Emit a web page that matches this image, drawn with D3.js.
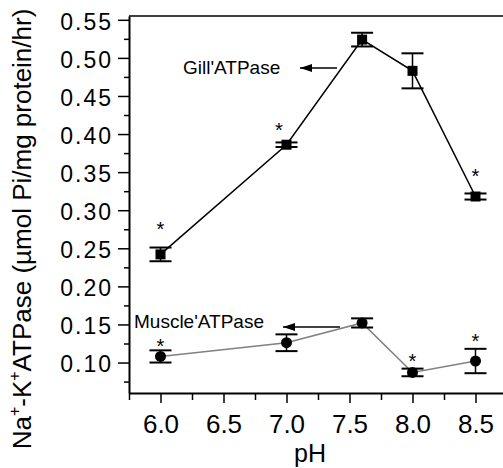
<!DOCTYPE html>
<html>
<head>
<meta charset="utf-8">
<script src="https://cdn.jsdelivr.net/npm/d3@7"></script>
<style>
  body { margin: 0; background: #fff; }
  svg { display: block; font-family: "Liberation Sans", Arial, sans-serif; }
  .tick text { font-family: "Liberation Sans", Arial, sans-serif; fill: #000; }
</style>
</head>
<body>
<div class="chart"></div>
<script>
var svgWidth = 503;
var svgHeight = 468;

var margin = { top: 16, right: -4, bottom: 75, left: 129 };
var width = svgWidth - margin.left - margin.right;
var height = svgHeight - margin.top - margin.bottom;

// pH values and series
var ph = [6.0, 7.0, 7.6, 8.0, 8.5];
var gillMean = [0.242, 0.386, 0.524, 0.483, 0.318];
var gillErr = [0.009, 0.003, 0.009, 0.023, 0.004];
var muscleMean = [0.108, 0.126, 0.152, 0.087, 0.102];
var muscleErr = [0.008, 0.011, 0.006, 0.005, 0.016];

// significance stars (x in pH, y in value units)
var gillStars = [[6.0, 0.280], [6.94, 0.410], [8.5, 0.350]];
var muscleStars = [[6.0, 0.127], [8.0, 0.107], [8.5, 0.134]];

var yMajor = [0.10, 0.15, 0.20, 0.25, 0.30, 0.35, 0.40, 0.45, 0.50, 0.55];
var yMinor = [0.075, 0.125, 0.175, 0.225, 0.275, 0.325, 0.375, 0.425, 0.475, 0.525];
var xMajor = [6.0, 6.5, 7.0, 7.5, 8.0, 8.5];
var xMinor = [5.75, 6.25, 6.75, 7.25, 7.75, 8.25];

var gill = ph.map(function(d, i) { return { x: d, y: gillMean[i], e: gillErr[i] }; });
var muscle = ph.map(function(d, i) { return { x: d, y: muscleMean[i], e: muscleErr[i] }; });

var svg = d3.select(".chart")
  .append("svg")
  .attr("width", svgWidth)
  .attr("height", svgHeight);

var chart = svg.append("g")
  .attr("transform", "translate(" + margin.left + "," + margin.top + ")");

var xScale = d3.scaleLinear().domain([5.75, 8.75]).range([0, width]);
var yScale = d3.scaleLinear().domain([0.06, 0.555]).range([height, 0]);

// arrow head
svg.append("defs").append("marker")
  .attr("id", "head")
  .attr("viewBox", "0 0 12 8")
  .attr("refX", 12).attr("refY", 4)
  .attr("markerWidth", 12).attr("markerHeight", 8)
  .attr("markerUnits", "userSpaceOnUse")
  .attr("orient", "auto")
  .append("path")
  .attr("d", "M0,0 L12,4 L0,8 Z")
  .attr("fill", "#000");

// top frame line
chart.append("line")
  .attr("x1", 0).attr("x2", width)
  .attr("y1", 0).attr("y2", 0)
  .attr("stroke", "#000").attr("stroke-width", 1.5);

// minor ticks
chart.append("g")
  .attr("transform", "translate(0," + height + ")")
  .call(d3.axisBottom(xScale).tickValues(xMinor).tickSize(7).tickFormat(""))
  .call(function(g) { g.select(".domain").remove(); g.selectAll("line").attr("stroke-width", 1.5); });
chart.append("g")
  .call(d3.axisLeft(yScale).tickValues(yMinor).tickSize(5).tickFormat(""))
  .call(function(g) { g.select(".domain").remove(); g.selectAll("line").attr("stroke-width", 1.5); });

// x axis
var xAxis = chart.append("g")
  .attr("transform", "translate(0," + height + ")")
  .call(d3.axisBottom(xScale).tickValues(xMajor).tickSize(10).tickSizeOuter(0).tickPadding(12)
    .tickFormat(d3.format(".1f")));
xAxis.select(".domain").attr("stroke-width", 2);
xAxis.selectAll("line").attr("stroke-width", 1.5);
xAxis.selectAll("text").style("font-size", "26px");

// y axis
var yAxis = chart.append("g")
  .call(d3.axisLeft(yScale).tickValues(yMajor).tickSize(11).tickSizeOuter(0).tickPadding(5)
    .tickFormat(d3.format(".2f")));
yAxis.select(".domain").attr("stroke-width", 2);
yAxis.selectAll("line").attr("stroke-width", 1.5);
yAxis.selectAll("text").style("font-size", "23px")
  .attr("letter-spacing", 2)
  .attr("dy", "0.4em");

// axis titles
chart.append("text")
  .attr("x", width / 2 - 8)
  .attr("y", height + 69)
  .attr("text-anchor", "middle")
  .attr("font-size", 25)
  .text("pH");

var yTitle = svg.append("text")
  .attr("transform", "translate(31,229) rotate(-90)")
  .attr("text-anchor", "middle")
  .attr("font-size", 26);
yTitle.append("tspan").text("Na");
yTitle.append("tspan").attr("font-size", 16).attr("dy", -11).text("+");
yTitle.append("tspan").attr("dy", 11).text("-K");
yTitle.append("tspan").attr("font-size", 16).attr("dy", -11).text("+");
yTitle.append("tspan").attr("dy", 11).text("ATPase (\u00b5mol Pi/mg protein/hr)");

// draws one series: line, error bars, markers
function drawSeries(data, color, shape) {
  var line = d3.line()
    .x(function(d) { return xScale(d.x); })
    .y(function(d) { return yScale(d.y); });

  chart.append("path")
    .datum(data)
    .attr("d", line)
    .attr("fill", "none")
    .attr("stroke", color)
    .attr("stroke-width", 1.5);

  var bars = chart.append("g").selectAll("g")
    .data(data)
    .enter().append("g");
  bars.append("line")
    .attr("x1", function(d) { return xScale(d.x); })
    .attr("x2", function(d) { return xScale(d.x); })
    .attr("y1", function(d) { return yScale(d.y - d.e); })
    .attr("y2", function(d) { return yScale(d.y + d.e); })
    .attr("stroke", "#000").attr("stroke-width", 1.5);
  [1, -1].forEach(function(s) {
    bars.append("line")
      .attr("x1", function(d) { return xScale(d.x) - 11; })
      .attr("x2", function(d) { return xScale(d.x) + 11; })
      .attr("y1", function(d) { return yScale(d.y + s * d.e); })
      .attr("y2", function(d) { return yScale(d.y + s * d.e); })
      .attr("stroke", "#000").attr("stroke-width", 2);
  });

  if (shape === "square") {
    chart.append("g").selectAll("rect")
      .data(data)
      .enter().append("rect")
      .attr("x", function(d) { return xScale(d.x) - 5; })
      .attr("y", function(d) { return yScale(d.y) - 5; })
      .attr("width", 10).attr("height", 10)
      .attr("fill", "#000");
  } else {
    chart.append("g").selectAll("circle")
      .data(data)
      .enter().append("circle")
      .attr("cx", function(d) { return xScale(d.x); })
      .attr("cy", function(d) { return yScale(d.y); })
      .attr("r", 5.5)
      .attr("fill", "#000");
  }
}

drawSeries(gill, "#000", "square");
drawSeries(muscle, "#808080", "circle");

// stars
chart.append("g").selectAll("text")
  .data(gillStars.concat(muscleStars))
  .enter().append("text")
  .attr("x", function(d) { return xScale(d[0]); })
  .attr("y", function(d) { return yScale(d[1]) + 11; })
  .attr("text-anchor", "middle")
  .attr("font-size", 20)
  .text("*");

// labels with arrows
svg.append("text")
  .attr("x", 183).attr("y", 74)
  .attr("font-size", 19)
  .text("Gill'ATPase");
svg.append("line")
  .attr("x1", 337).attr("y1", 68).attr("x2", 300).attr("y2", 68)
  .attr("stroke", "#000").attr("stroke-width", 1.5)
  .attr("marker-end", "url(#head)");

svg.append("text")
  .attr("x", 134).attr("y", 328)
  .attr("font-size", 19)
  .text("Muscle'ATPase");
svg.append("line")
  .attr("x1", 340).attr("y1", 327).attr("x2", 283).attr("y2", 327)
  .attr("stroke", "#000").attr("stroke-width", 1.5)
  .attr("marker-end", "url(#head)");
</script>
</body>
</html>
